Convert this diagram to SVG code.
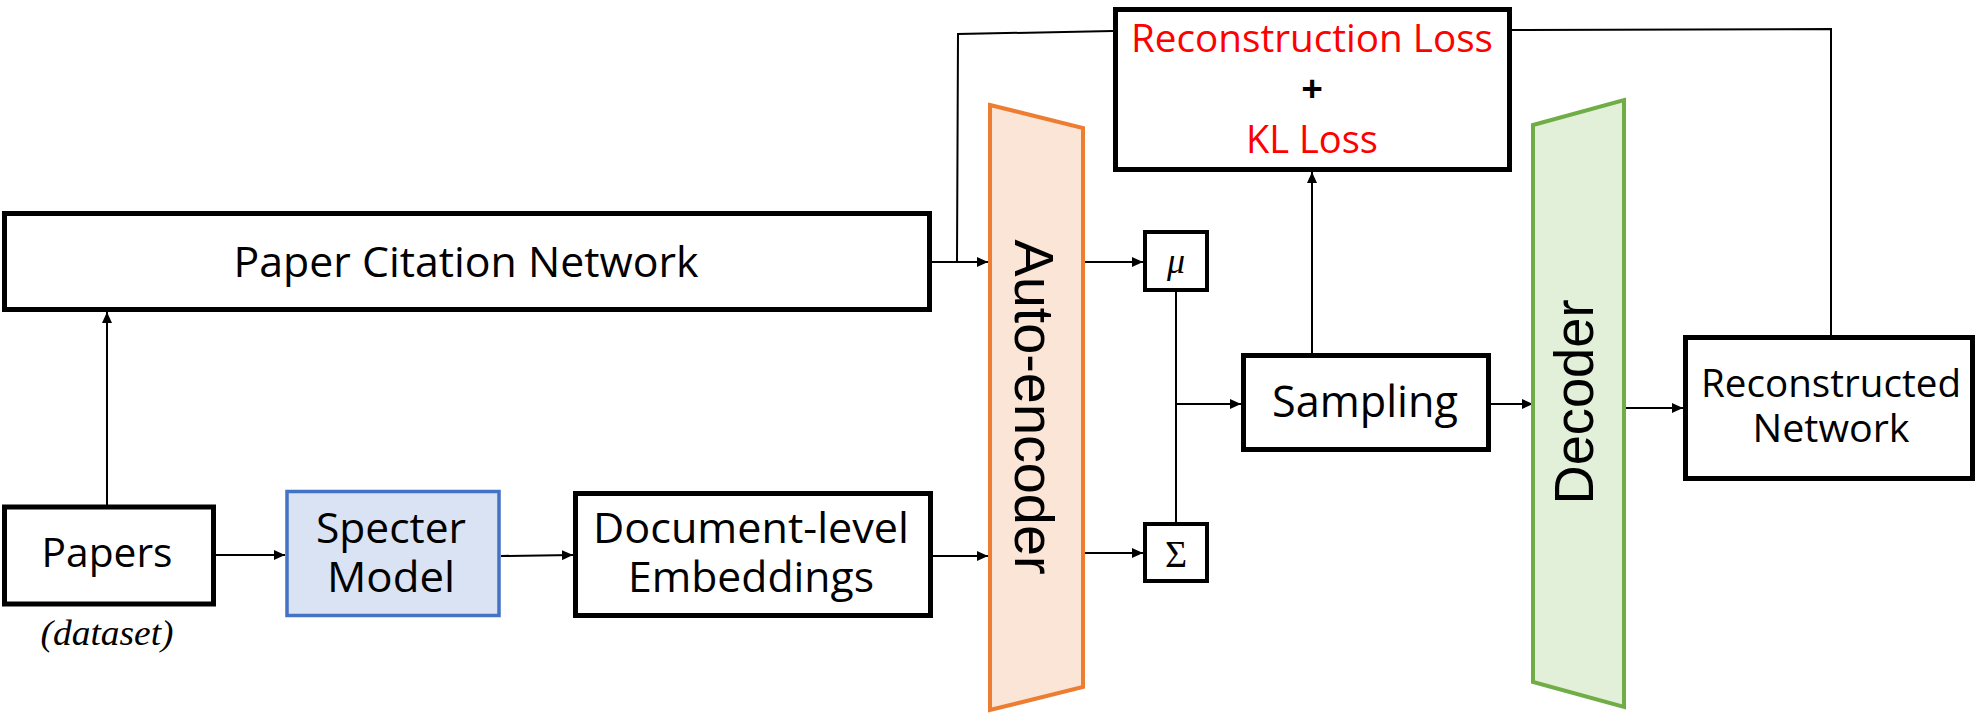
<svg xmlns="http://www.w3.org/2000/svg" width="1979" height="714" viewBox="0 0 1979 714">
<style>
.box{fill:#fff;stroke:#000;stroke-width:5}
.sm{fill:#fff;stroke:#000;stroke-width:4}
.t{font-family:"Open Sans","Noto Sans",sans-serif;fill:#000;text-anchor:middle}
.red{fill:#FF0000}
.big{font-family:"Liberation Sans",Arial,sans-serif;font-size:55px;fill:#000;text-anchor:middle}
.ln{fill:none;stroke:#000;stroke-width:2}
.ar{fill:none;stroke:#000;stroke-width:2;marker-end:url(#ah)}
</style>
<defs>
<marker id="ah" markerUnits="userSpaceOnUse" markerWidth="12" markerHeight="10" refX="11" refY="5" orient="auto">
<path d="M0,0 L11,5 L0,10 z" fill="#000"/>
</marker>
</defs>
<rect width="1979" height="714" fill="#fff"/>
<g id="connectors">
<path class="ar" d="M107,505 L107,312"/>
<path class="ar" d="M215,555 L285,555"/>
<path class="ar" d="M501,556 L573,555"/>
<path class="ar" d="M933,556 L988,556"/>
<path class="ar" d="M931,262 L988,262"/>
<path class="ln" d="M957,262 L958,34 L1113,31"/>
<path class="ar" d="M1083,262 L1143,262"/>
<path class="ar" d="M1083,553 L1143,553"/>
<path class="ln" d="M1176,291 L1176,522"/>
<path class="ar" d="M1176,404 L1241,404"/>
<path class="ar" d="M1312,353 L1312,172"/>
<path class="ar" d="M1491,404 L1533,404"/>
<path class="ar" d="M1624,408 L1683,408"/>
<path class="ln" d="M1512,30 L1831,29 L1831,335"/>
</g>
<g id="paper-citation-network">
<rect class="box" x="4.5" y="213.5" width="925" height="96"/>
<text class="t" x="466" y="277" font-size="42.5" textLength="465" lengthAdjust="spacingAndGlyphs">Paper Citation Network</text>
</g>
<g id="papers">
<rect class="box" x="4.5" y="507" width="209" height="97"/>
<text class="t" x="107" y="567" font-size="41" textLength="131" lengthAdjust="spacingAndGlyphs">Papers</text>
<text x="107" y="645" font-family="'Liberation Serif','Times New Roman',serif" font-style="italic" font-size="36" text-anchor="middle" textLength="133" lengthAdjust="spacingAndGlyphs">(dataset)</text>
</g>
<g id="specter-model">
<rect x="287" y="491.5" width="212" height="124" fill="#DAE3F3" stroke="#4472C4" stroke-width="3.5"/>
<text class="t" x="391" y="543" font-size="42.5" textLength="150" lengthAdjust="spacingAndGlyphs">Specter</text>
<text class="t" x="391" y="592" font-size="42.5" textLength="128" lengthAdjust="spacingAndGlyphs">Model</text>
</g>
<g id="document-embeddings">
<rect class="box" x="575.5" y="493.5" width="355" height="122"/>
<text class="t" x="751" y="543" font-size="41.5" textLength="316" lengthAdjust="spacingAndGlyphs">Document-level</text>
<text class="t" x="751" y="592" font-size="42.5" textLength="246" lengthAdjust="spacingAndGlyphs">Embeddings</text>
</g>
<g id="auto-encoder">
<polygon points="990,105 1083,128 1083,687 990,710" fill="#FBE5D6" stroke="#ED7D31" stroke-width="4"/>
<text class="big" transform="translate(1015,407) rotate(90)" x="0" y="0" textLength="335" lengthAdjust="spacingAndGlyphs">Auto-encoder</text>
</g>
<g id="mu">
<rect class="sm" x="1145" y="232" width="62" height="58"/>
<text x="1176" y="273" font-family="'Liberation Serif','Times New Roman',serif" font-style="italic" font-size="36" text-anchor="middle">μ</text>
</g>
<g id="sigma">
<rect class="sm" x="1145" y="524" width="62" height="57"/>
<text x="1176" y="567" font-family="'Liberation Serif','Times New Roman',serif" font-size="38" text-anchor="middle">Σ</text>
</g>
<g id="sampling">
<rect class="box" x="1243.5" y="355.5" width="245" height="94"/>
<text class="t" x="1365" y="417" font-size="43" textLength="186" lengthAdjust="spacingAndGlyphs">Sampling</text>
</g>
<g id="loss">
<rect class="box" x="1115.5" y="9.5" width="394" height="160"/>
<text class="t red" x="1312" y="52" font-size="38.6" textLength="362" lengthAdjust="spacingAndGlyphs">Reconstruction Loss</text>
<text class="t" x="1312" y="102" font-size="38" font-weight="bold">+</text>
<text class="t red" x="1312" y="153" font-size="38" textLength="132" lengthAdjust="spacingAndGlyphs">KL Loss</text>
</g>
<g id="decoder">
<polygon points="1533,125 1624,100 1624,707 1533,682" fill="#E2F0D9" stroke="#70AD47" stroke-width="4"/>
<text class="big" transform="translate(1593,402) rotate(-90)" x="0" y="0" textLength="205" lengthAdjust="spacingAndGlyphs">Decoder</text>
</g>
<g id="reconstructed-network">
<rect class="box" x="1685.5" y="337.5" width="287" height="141"/>
<text class="t" x="1831" y="397" font-size="39" textLength="260" lengthAdjust="spacingAndGlyphs">Reconstructed</text>
<text class="t" x="1831" y="442" font-size="39" textLength="157" lengthAdjust="spacingAndGlyphs">Network</text>
</g>
</svg>
